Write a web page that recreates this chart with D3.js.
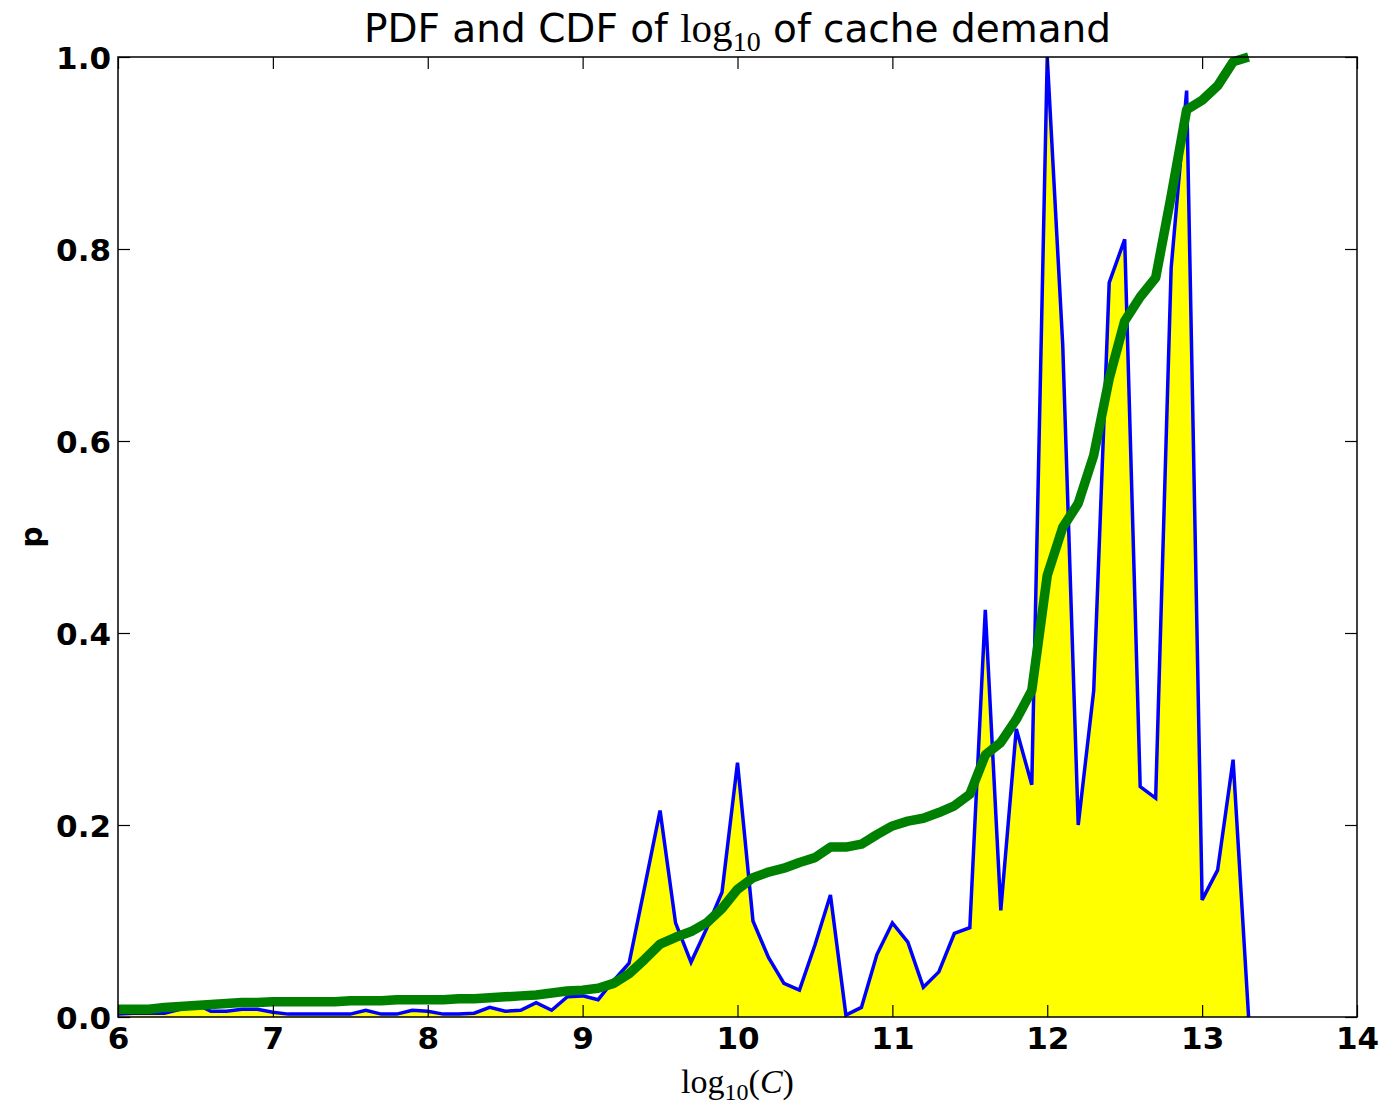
<!DOCTYPE html>
<html>
<head>
<meta charset="utf-8">
<script src="https://cdn.jsdelivr.net/npm/d3@7"></script>
<style>
  body { margin: 0; background: #fff; }
  .tick text { font-family: "DejaVu Sans", sans-serif; font-weight: bold; font-size: 31px; fill: #000; }
  .tick line { stroke: #000; stroke-width: 1.2px; }
</style>
</head>
<body>
<div id="chart"></div>
<script>
// chart data

var logC = [6.0, 6.1, 6.2, 6.3, 6.4, 6.5, 6.6, 6.7, 6.8, 6.9,
  7.0, 7.1, 7.2, 7.3, 7.4, 7.5, 7.6, 7.7, 7.8, 7.9,
  8.0, 8.1, 8.2, 8.3, 8.4, 8.5, 8.6, 8.7, 8.8, 8.9,
  9.0, 9.1, 9.2, 9.3, 9.4, 9.5, 9.6, 9.7, 9.8, 9.9,
  10.0, 10.1, 10.2, 10.3, 10.4, 10.5, 10.6, 10.7, 10.8, 10.9,
  11.0, 11.1, 11.2, 11.3, 11.4, 11.5, 11.6, 11.7, 11.8, 11.9,
  12.0, 12.1, 12.2, 12.3, 12.4, 12.5, 12.6, 12.7, 12.8, 12.9,
  13.0, 13.1, 13.2, 13.3];

var pdf = [0.003, 0.004, 0.004, 0.004, 0.008, 0.014, 0.006, 0.006, 0.008, 0.008,
  0.005, 0.003, 0.003, 0.003, 0.003, 0.003, 0.007, 0.003, 0.003, 0.007,
  0.006, 0.003, 0.003, 0.004, 0.010, 0.006, 0.007, 0.015, 0.007, 0.021,
  0.022, 0.018, 0.038, 0.056, 0.135, 0.215, 0.098, 0.057, 0.092, 0.130,
  0.265, 0.100, 0.062, 0.035, 0.028, 0.075, 0.127, 0.002, 0.010, 0.065,
  0.098, 0.078, 0.031, 0.047, 0.087, 0.093, 0.424, 0.111, 0.300, 0.242,
  1.000, 0.700, 0.200, 0.340, 0.765, 0.810, 0.240, 0.228, 0.780, 0.965,
  0.122, 0.153, 0.268, 0.000];

var cdf = [0.008, 0.008, 0.008, 0.010, 0.011, 0.012, 0.013, 0.014, 0.015, 0.015,
  0.016, 0.016, 0.016, 0.016, 0.016, 0.017, 0.017, 0.017, 0.018, 0.018,
  0.018, 0.018, 0.019, 0.019, 0.020, 0.021, 0.022, 0.023, 0.025, 0.027,
  0.028, 0.030, 0.035, 0.045, 0.060, 0.076, 0.083, 0.089, 0.098, 0.113,
  0.133, 0.145, 0.151, 0.155, 0.161, 0.166, 0.177, 0.177, 0.180, 0.190,
  0.199, 0.204, 0.207, 0.213, 0.220, 0.232, 0.273, 0.286, 0.310, 0.340,
  0.460, 0.510, 0.535, 0.585, 0.665, 0.725, 0.750, 0.770, 0.855, 0.945,
  0.955, 0.970, 0.995, 1.000];

var xTicks = [6, 7, 8, 9, 10, 11, 12, 13, 14];
var yTicks = [0.0, 0.2, 0.4, 0.6, 0.8, 1.0];

// set up area for chart with margins
var svgWidth = 1383;
var svgHeight = 1110;
var margin = { top: 57, right: 26, bottom: 93, left: 118 };
var width = svgWidth - margin.left - margin.right;
var height = svgHeight - margin.top - margin.bottom;

var svg = d3.select("#chart")
  .append("svg")
  .attr("width", svgWidth)
  .attr("height", svgHeight);

var chartGroup = svg.append("g")
  .attr("transform", `translate(${margin.left}, ${margin.top})`);

var xScale = d3.scaleLinear().domain([6, 14]).range([0, width]);
var yScale = d3.scaleLinear().domain([0, 1]).range([height, 0]);

var points = logC.map((x, i) => ({ x: x, p: pdf[i], c: cdf[i] }));

// yellow fill under the pdf
var area = d3.area()
  .x(d => xScale(d.x))
  .y0(yScale(0))
  .y1(d => yScale(d.p));

chartGroup.append("path")
  .datum(points)
  .attr("d", area)
  .attr("fill", "#ffff00");

// pdf line
chartGroup.append("path")
  .datum(points)
  .attr("d", d3.line().x(d => xScale(d.x)).y(d => yScale(d.p)))
  .attr("fill", "none")
  .attr("stroke", "#0000ff")
  .attr("stroke-width", 3.5);

// cdf line
chartGroup.append("path")
  .datum(points)
  .attr("d", d3.line().x(d => xScale(d.x)).y(d => yScale(d.c)))
  .attr("fill", "none")
  .attr("stroke", "#008000")
  .attr("stroke-width", 9.5)
  .attr("stroke-linejoin", "round");

// axes, ticks pointing inwards on all four sides
var tickLen = 12;

var bottomAxis = d3.axisBottom(xScale).tickValues(xTicks).tickFormat(d3.format("d"))
  .tickSizeInner(-tickLen).tickSizeOuter(0).tickPadding(10);
var leftAxis = d3.axisLeft(yScale).tickValues(yTicks).tickFormat(d3.format(".1f"))
  .tickSizeInner(-tickLen).tickSizeOuter(0).tickPadding(7);

chartGroup.append("g")
  .attr("transform", `translate(0, ${height})`)
  .call(bottomAxis)
  .call(g => g.select(".domain").remove());

chartGroup.append("g")
  .call(leftAxis)
  .call(g => g.select(".domain").remove())
  .selectAll("text").attr("dy", "0.36em");

chartGroup.append("g")
  .call(d3.axisTop(xScale).tickValues(xTicks).tickFormat("").tickSizeInner(-tickLen).tickSizeOuter(0))
  .call(g => g.select(".domain").remove());

chartGroup.append("g")
  .attr("transform", `translate(${width}, 0)`)
  .call(d3.axisRight(yScale).tickValues(yTicks).tickFormat("").tickSizeInner(-tickLen).tickSizeOuter(0))
  .call(g => g.select(".domain").remove());

// frame
chartGroup.append("rect")
  .attr("width", width)
  .attr("height", height)
  .attr("fill", "none")
  .attr("stroke", "#000")
  .attr("stroke-width", 1.5);

// title
var title = svg.append("text")
  .attr("x", margin.left + width / 2)
  .attr("y", 42)
  .attr("text-anchor", "middle")
  .style("font-family", "DejaVu Sans, sans-serif")
  .style("font-size", "39px");
title.append("tspan").text("PDF and CDF of ");
title.append("tspan").style("font-family", "Liberation Serif, serif").style("font-size", "41px").text("log");
title.append("tspan").style("font-family", "Liberation Serif, serif").style("font-size", "28px").attr("dy", 9).text("10");
title.append("tspan").attr("dy", -9).text(" of cache demand");

// axis labels
var xLabel = svg.append("text")
  .attr("x", margin.left + width / 2)
  .attr("y", 1093)
  .attr("text-anchor", "middle")
  .style("font-family", "Liberation Serif, serif")
  .style("font-size", "34px");
xLabel.append("tspan").text("log");
xLabel.append("tspan").style("font-size", "24px").attr("dy", 7).text("10");
xLabel.append("tspan").attr("dy", -7).text("(");
xLabel.append("tspan").style("font-style", "italic").text("C");
xLabel.append("tspan").text(")");

svg.append("text")
  .attr("transform", `translate(42, ${margin.top + height / 2}) rotate(-90)`)
  .attr("text-anchor", "middle")
  .style("font-family", "DejaVu Sans, sans-serif")
  .style("font-weight", "bold")
  .style("font-size", "30px")
  .text("p");
</script>
</body>
</html>
